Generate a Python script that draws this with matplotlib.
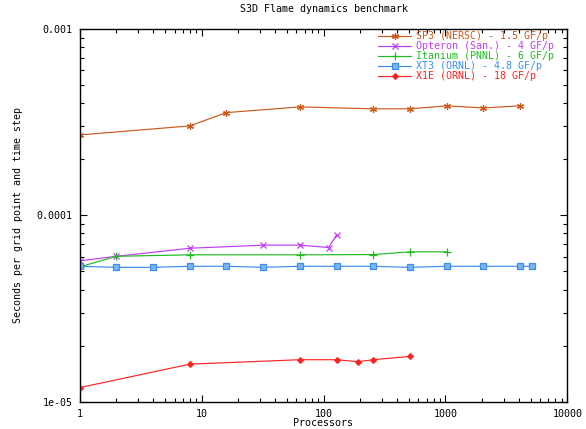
import matplotlib
matplotlib.use("Agg")
import matplotlib.pyplot as plt
from matplotlib.ticker import LogLocator, NullFormatter

plt.rcParams['font.family'] = ['DejaVu Sans Mono']

# Benchmark data: processors vs. seconds per grid point and time step
sp3_procs = [1, 8, 16, 64, 256, 512, 1024, 2048, 4096]
sp3_time = [2.70e-4, 3.02e-4, 3.56e-4, 3.82e-4, 3.73e-4, 3.73e-4, 3.87e-4, 3.77e-4, 3.87e-4]

opteron_procs = [1, 2, 8, 32, 64, 110, 128]
opteron_time = [5.70e-5, 6.03e-5, 6.66e-5, 6.92e-5, 6.92e-5, 6.72e-5, 7.85e-5]

itanium_procs = [1, 2, 8, 64, 256, 512, 1024]
itanium_time = [5.29e-5, 6.03e-5, 6.14e-5, 6.14e-5, 6.16e-5, 6.37e-5, 6.37e-5]

xt3_procs = [1, 2, 4, 8, 16, 32, 64, 128, 256, 512, 1024, 2048, 4096, 5120]
xt3_time = [5.33e-5, 5.26e-5, 5.26e-5, 5.33e-5, 5.33e-5, 5.26e-5, 5.33e-5, 5.33e-5,
            5.33e-5, 5.26e-5, 5.33e-5, 5.33e-5, 5.33e-5, 5.33e-5]

x1e_procs = [1, 8, 64, 128, 192, 256, 512]
x1e_time = [1.19e-5, 1.59e-5, 1.68e-5, 1.68e-5, 1.64e-5, 1.68e-5, 1.75e-5]

series_labels = [
    "SP3 (NERSC) - 1.5 GF/p",
    "Opteron (San.) - 4 GF/p",
    "Itanium (PNNL) - 6 GF/p",
    "XT3 (ORNL) - 4.8 GF/p",
    "X1E (ORNL) - 18 GF/p",
]

x_ticks = [1, 10, 100, 1000, 10000]
x_tick_labels = ["1", "10", "100", "1000", "10000"]
y_ticks = [1e-5, 1e-4, 1e-3]
y_tick_labels = ["1e-05", "0.0001", "0.001"]

fig = plt.figure(figsize=(5.86, 4.29), dpi=100)
ax_l, ax_r, ax_t, ax_b = 79.7, 567.3, 29.0, 401.7
ax = fig.add_axes([ax_l / 586, 1 - ax_b / 429, (ax_r - ax_l) / 586, (ax_b - ax_t) / 429])

fs = 7.2
lw = 0.85
ax.plot(sp3_procs, sp3_time, color="#cc5a1a", lw=lw, marker=(6, 2, 0), ms=5, mew=0.9,
        label=series_labels[0])
ax.plot(opteron_procs, opteron_time, color="#c23cf5", lw=lw, marker="x", ms=5, mew=0.9,
        label=series_labels[1])
ax.plot(itanium_procs, itanium_time, color="#22bb22", lw=lw, marker="+", ms=6, mew=0.9,
        label=series_labels[2])
ax.plot(xt3_procs, xt3_time, color="#3a8ef0", lw=lw, marker="s", ms=4.3, mew=0.9,
        mfc="#7ab4f8", mec="#3a8ef0", label=series_labels[3])
ax.plot(x1e_procs, x1e_time, color="#ff2222", lw=lw, marker="D", ms=3, mew=0.8,
        label=series_labels[4])

ax.set_xscale("log")
ax.set_yscale("log")
ax.set_xlim(1, 10000)
ax.set_ylim(1e-5, 1e-3)

ax.set_xticks(x_ticks, x_tick_labels)
ax.set_yticks(y_ticks, y_tick_labels)
ax.xaxis.set_minor_locator(LogLocator(base=10, subs=range(2, 10)))
ax.yaxis.set_minor_locator(LogLocator(base=10, subs=range(2, 10)))
ax.xaxis.set_minor_formatter(NullFormatter())
ax.yaxis.set_minor_formatter(NullFormatter())

ax.tick_params(which="both", direction="in", top=True, right=True, width=0.8,
               labelsize=fs, colors="black")
ax.tick_params(which="major", length=5, pad=5)
ax.tick_params(which="minor", length=3)
for s in ax.spines.values():
    s.set_linewidth(1)

ax.set_title("S3D Flame dynamics benchmark", fontsize=fs, pad=12)
ax.set_xlabel("Processors", fontsize=fs)
ax.set_ylabel("Seconds per grid point and time step", fontsize=fs)
w_px, h_px = ax_r - ax_l, ax_b - ax_t
ax.xaxis.set_label_coords(0.5, (ax_b - 423) / h_px)
ax.yaxis.set_label_coords((18 - ax_l) / w_px, 0.5)
ax.xaxis.label.set_verticalalignment("center")
ax.yaxis.label.set_verticalalignment("center")

leg = ax.legend(loc="upper left", bbox_to_anchor=(378 / 586, 1 - 31 / 429),
                bbox_transform=fig.transFigure, frameon=False, fontsize=fs,
                handlelength=3.3, handletextpad=0.45, labelspacing=0.0,
                borderpad=0, borderaxespad=0)
for line, text in zip(leg.get_lines(), leg.get_texts()):
    text.set_color(line.get_color())

fig.savefig("out.png", dpi=100)
